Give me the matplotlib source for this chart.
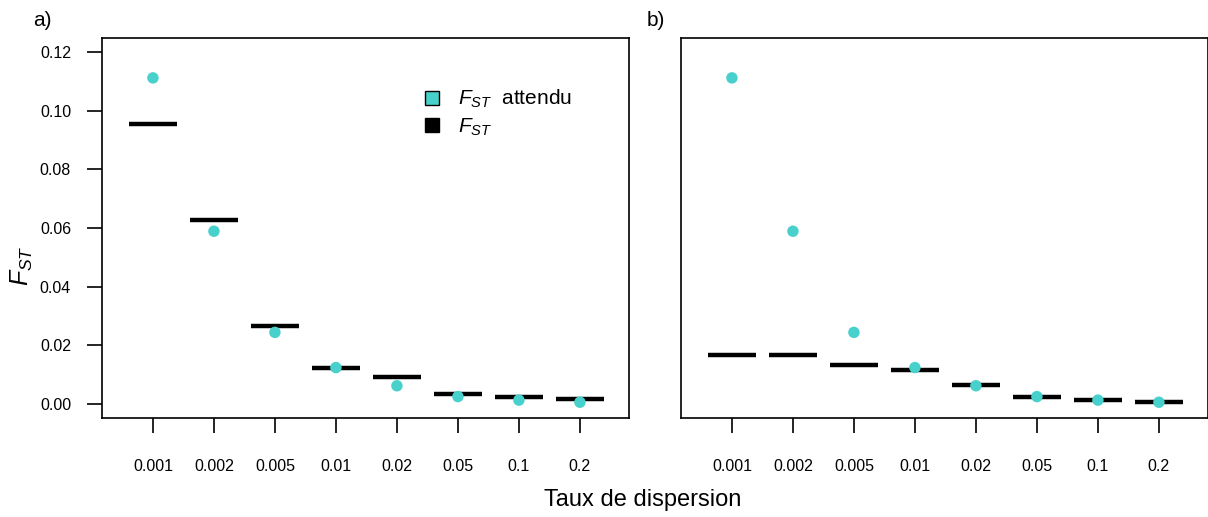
import matplotlib
matplotlib.use("Agg")
import matplotlib.pyplot as plt
from matplotlib.lines import Line2D

plt.rcParams['font.family'] = ['Liberation Sans', 'DejaVu Sans']
plt.rcParams['mathtext.fontset'] = 'custom'
plt.rcParams['mathtext.rm'] = 'Liberation Sans'
plt.rcParams['mathtext.it'] = 'Liberation Sans:italic'

categories = ["0.001", "0.002", "0.005", "0.01", "0.02", "0.05", "0.1", "0.2"]
fst_expected = [0.1112, 0.0589, 0.0244, 0.0124, 0.0062, 0.0025, 0.00130, 0.00058]
fst_a = [0.0956, 0.0626, 0.0266, 0.0123, 0.0091, 0.0035, 0.0024, 0.0017]
fst_b = [0.0167, 0.0167, 0.0133, 0.0114, 0.0066, 0.0023, 0.0015, 0.0006]
yticks = [0.00, 0.02, 0.04, 0.06, 0.08, 0.10, 0.12]
ytick_labels = ["0.00", "0.02", "0.04", "0.06", "0.08", "0.10", "0.12"]

TURQ = "#48D1CC"
W, H = 1208, 517
fig = plt.figure(figsize=(W / 100, H / 100), dpi=100)

def frac(x0, y0, x1, y1):
    return [x0 / W, 1 - y1 / H, (x1 - x0) / W, (y1 - y0) / H]

ax_a = fig.add_axes(frac(102, 38, 629, 418))
ax_b = fig.add_axes(frac(681, 38, 1208, 418))

half = 0.4
for ax, bars in [(ax_a, fst_a), (ax_b, fst_b)]:
    xs = list(range(1, len(categories) + 1))
    for x, v in zip(xs, bars):
        ax.plot([x - half, x + half], [v, v], color="black", lw=3.2,
                solid_capstyle="butt", zorder=2)
    ax.scatter(xs, fst_expected, s=68, color=TURQ, edgecolors="none", zorder=3)
    ax.set_xlim(0.165, 8.805)
    ax.set_ylim(-0.0048, 0.1248)
    ax.set_xticks(xs)
    ax.set_xticklabels(categories, fontsize=11.5)
    ax.tick_params(axis="x", length=10.8, width=1.2, pad=19)
    for s in ax.spines.values():
        s.set_linewidth(1.2)

fig.text(33 / W, 1 - 20 / H, "a)", fontsize=15, ha="left", va="center")
fig.text(647 / W, 1 - 20 / H, "b)", fontsize=15, ha="left", va="center")

ax_a.set_yticks(yticks)
ax_a.set_yticklabels(ytick_labels, fontsize=11.5)
ax_a.tick_params(axis="y", length=10.8, width=1.2, pad=11.5)
ax_b.set_yticks([])

fig.text(22 / W, 1 - 266 / H, r"$F_{ST}$", rotation=90, ha="center", va="center",
         fontsize=18)
fig.text(643 / W, 1 - 500 / H, "Taux de dispersion", ha="center", va="center",
         fontsize=17)

handles = [
    Line2D([], [], marker="s", linestyle="none", markerfacecolor=TURQ,
           markeredgecolor="black", markeredgewidth=1.0, markersize=10),
    Line2D([], [], marker="s", linestyle="none", markerfacecolor="black",
           markeredgecolor="black", markersize=10),
]
ax_a.legend(handles, [r"$F_{ST}$" + "  attendu", r"$F_{ST}$"], loc="upper left",
            bbox_to_anchor=(422 / W, 1 - 88 / H), bbox_transform=fig.transFigure,
            frameon=False, fontsize=15, handlelength=1.0, handletextpad=0.75,
            labelspacing=0.3, borderpad=0, borderaxespad=0)

fig.savefig("out.png", dpi=100)
